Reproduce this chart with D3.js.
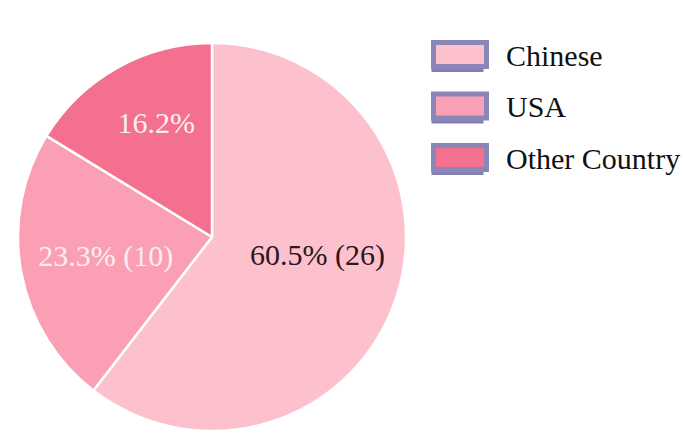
<!DOCTYPE html>
<html><head><meta charset="utf-8">
<script src="https://cdn.jsdelivr.net/npm/d3@7/dist/d3.min.js"></script>
<style>body{margin:0;background:#fff}svg{display:block}</style>
</head><body><svg id="c" width="683" height="443"></svg>
<script>
const categories = ["Chinese", "USA", "Other Country"];
const counts = [26, 10, 7];
const labels = ["60.5% (26)", "23.3% (10)", "16.2%"];

const colors = ["#fdc0cd", "#fa9fb4", "#f3718e"];
const labelColors = ["#2b171c", "#fbeef1", "#fbeef1"];
// label placement (angle in degrees clockwise from top, radius in px)
const labelPlace = [{a: 99.6, r: 107}, {a: 260, r: 108}, {a: 334, r: 127}];

const svg = d3.select("#c");
const cx = 212, cy = 237, R = 194;
const g = svg.append("g").attr("transform", `translate(${cx},${cy})`);

const pie = d3.pie().sort(null).value(d => d)(counts);
const arc = d3.arc().innerRadius(0).outerRadius(R);
g.selectAll("path").data(pie).join("path")
  .attr("d", arc)
  .attr("fill", (d, i) => colors[i])
  .attr("stroke", "#ffffff").attr("stroke-width", 2.5).attr("stroke-linejoin", "round");

g.selectAll("text.lbl").data(pie).join("text").attr("class", "lbl")
  .attr("x", (d, i) => labelPlace[i].r * Math.sin(labelPlace[i].a * Math.PI / 180))
  .attr("y", (d, i) => -labelPlace[i].r * Math.cos(labelPlace[i].a * Math.PI / 180))
  .attr("text-anchor", "middle").attr("dominant-baseline", "central")
  .attr("font-family", "Liberation Serif, Times New Roman, serif")
  .attr("font-size", 30)
  .attr("fill", (d, i) => labelColors[i])
  .text((d, i) => labels[i]);

const leg = svg.append("g").attr("transform", "translate(431,40)");
const rows = leg.selectAll("g").data(categories).join("g")
  .attr("transform", (d, i) => `translate(0,${i * 51.5})`);
rows.append("rect").attr("x", 0.5).attr("y", 5).attr("width", 52).attr("height", 27)
  .attr("fill", "#8580b0");
rows.append("rect").attr("x", 2.5).attr("y", 2.5).attr("width", 53).attr("height", 24)
  .attr("fill", (d, i) => colors[i]).attr("stroke", "#8a86b8").attr("stroke-width", 5);
rows.append("text").attr("x", 75).attr("y", 15)
  .attr("dominant-baseline", "central")
  .attr("font-family", "Liberation Serif, Times New Roman, serif")
  .attr("font-size", 30).attr("fill", "#111111")
  .text(d => d);
</script></body></html>
